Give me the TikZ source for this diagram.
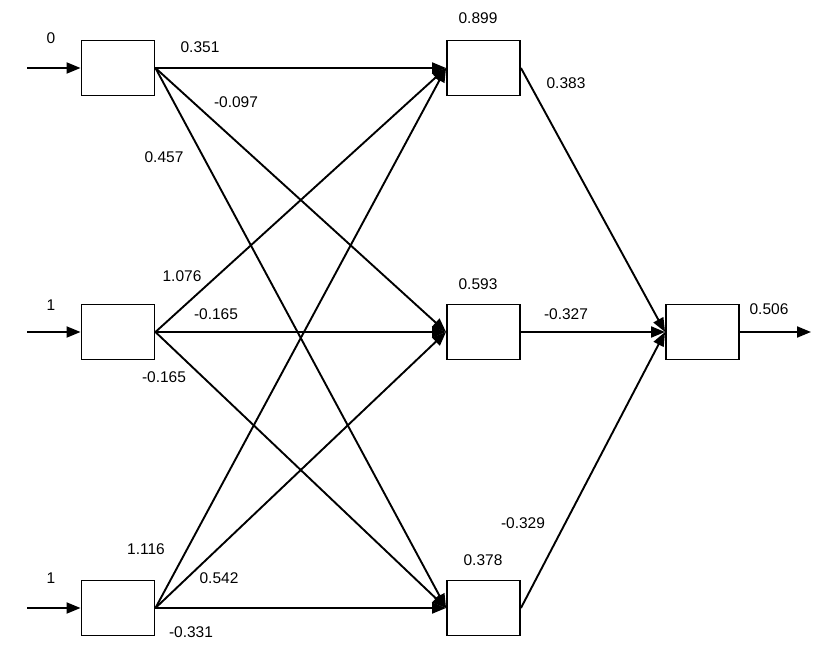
\documentclass[tikz,border=0pt]{standalone}
\usepackage{fontspec}
\setmainfont{Liberation Sans}
\usetikzlibrary{arrows.meta}
\begin{document}
\begin{tikzpicture}[x=1pt,y=-1pt,
  unit/.style={draw,line width=1.9pt,minimum width=73pt,minimum height=55pt,inner sep=0pt},
  conn/.style={line width=1.9pt,-{Triangle[length=14pt,width=11pt]}},
  lbl/.style={font=\fontsize{15.5}{18}\selectfont,inner sep=0pt}]
\useasboundingbox (0,0) rectangle (833,648);
% input layer
\node[unit] (i1) at (118,68) {};
\node[unit] (i2) at (118,332) {};
\node[unit] (i3) at (118,608) {};
% hidden layer
\node[unit] (h1) at (483.5,68) {};
\node[unit] (h2) at (483.5,332) {};
\node[unit] (h3) at (483.5,608) {};
% output
\node[unit] (o) at (702.5,332) {};
% free ends
\coordinate (s1) at (27,68);
\coordinate (s2) at (27,332);
\coordinate (s3) at (27,608);
\coordinate (e) at (811,332);
% input arrows
\draw[conn] (s1) -- (i1.west);
\draw[conn] (s2) -- (i2.west);
\draw[conn] (s3) -- (i3.west);
% input -> hidden
\foreach \a in {i1,i2,i3}{
  \foreach \b in {h1,h2,h3}{
    \draw[conn] (\a.east) -- (\b.west);
  }
}
% hidden -> output
\draw[conn] (h1.east) -- (o.west);
\draw[conn] (h2.east) -- (o.west);
\draw[conn] (h3.east) -- (o.west);
\draw[conn] (o.east) -- (e);
% labels
\node[lbl] (l0) at (51,38) {0};
\node[lbl] (l1) at (51,305) {1};
\node[lbl] (l2) at (51,578) {1};
\node[lbl] (w11) at (200,47) {0.351};
\node[lbl] (w12) at (236,102) {-0.097};
\node[lbl] (w13) at (164,157) {0.457};
\node[lbl] (w21) at (182,276) {1.076};
\node[lbl] (w22) at (216,314) {-0.165};
\node[lbl] (w23) at (164,377) {-0.165};
\node[lbl] (w31) at (146,549) {1.116};
\node[lbl] (w32) at (219,578) {0.542};
\node[lbl] (w33) at (191,632) {-0.331};
\node[lbl] (hv1) at (478,18) {0.899};
\node[lbl] (hv2) at (478,284) {0.593};
\node[lbl] (hv3) at (483,560) {0.378};
\node[lbl] (v1) at (566,83) {0.383};
\node[lbl] (v2) at (566,314) {-0.327};
\node[lbl] (v3) at (523,523) {-0.329};
\node[lbl] (out) at (769,309) {0.506};
\end{tikzpicture}
\end{document}
